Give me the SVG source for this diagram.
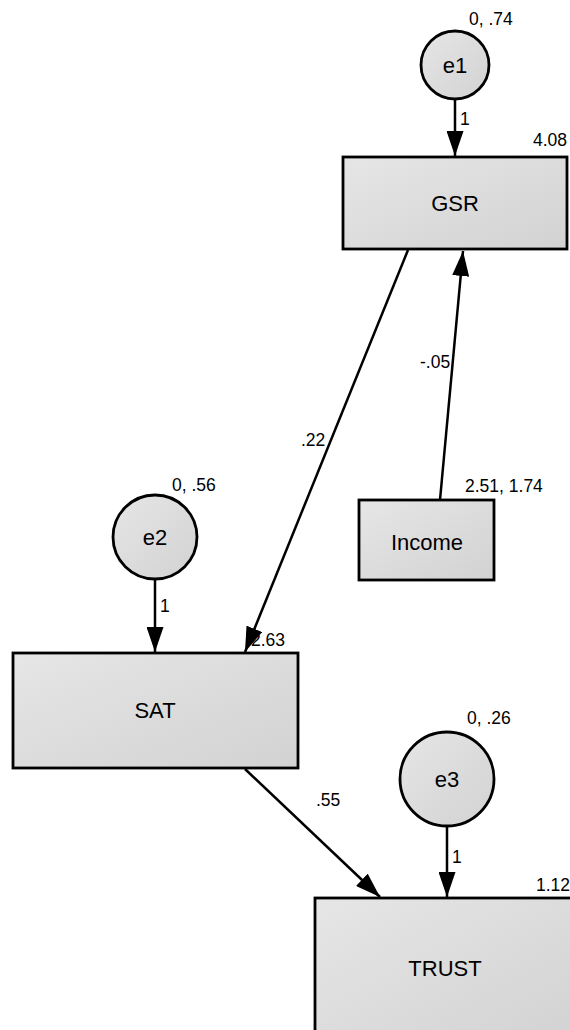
<svg xmlns="http://www.w3.org/2000/svg" width="570" height="1030" viewBox="0 0 570 1030">
<style>
.node{fill:url(#g);stroke:#000;stroke-width:2.8}
.lbl{font-family:"Liberation Sans",Arial,sans-serif;font-size:22px;fill:#000;text-anchor:middle}
.val{font-family:"Liberation Sans",Arial,sans-serif;font-size:17.5px;fill:#000}
.edge{stroke:#000;stroke-width:2.5;fill:none;marker-end:url(#ah)}
</style>
<defs>
<linearGradient id="g" x1="0" y1="0" x2="1" y2="1">
<stop offset="0" stop-color="#e6e6e6"/>
<stop offset="1" stop-color="#d2d2d2"/>
</linearGradient>
<marker id="ah" markerUnits="userSpaceOnUse" markerWidth="26" markerHeight="17" refX="25" refY="8.5" orient="auto">
<path d="M0,0 L25,8.5 L0,17 Z" fill="#000"/>
</marker>
</defs>
<rect width="570" height="1030" fill="#fff"/>
<g id="connectors">
<line class="edge" x1="455" y1="99" x2="455" y2="156"/>
<line class="edge" x1="155" y1="580" x2="155" y2="652"/>
<line class="edge" x1="447" y1="826" x2="447" y2="897"/>
<line class="edge" x1="408" y1="250" x2="245" y2="652"/>
<line class="edge" x1="440" y1="500" x2="463" y2="251"/>
<line class="edge" x1="245" y1="769" x2="380" y2="897"/>
<text class="val" x="460" y="125">1</text>
<text class="val" x="160" y="612">1</text>
<text class="val" x="452" y="863">1</text>
<text class="val" x="301" y="446">.22</text>
<text class="val" x="420" y="368">-.05</text>
<text class="val" x="316" y="806">.55</text>
</g>
<g id="e1">
<circle class="node" cx="455" cy="65" r="34"/>
<text class="lbl" x="455" y="73">e1</text>
<text class="val" x="469" y="25">0, .74</text>
</g>
<g id="GSR">
<rect class="node" x="343" y="157" width="224" height="92"/>
<text class="lbl" x="455" y="211">GSR</text>
<text class="val" x="567" y="146" text-anchor="end">4.08</text>
</g>
<g id="e2">
<circle class="node" cx="155" cy="537" r="42"/>
<text class="lbl" x="155" y="545">e2</text>
<text class="val" x="172" y="491">0, .56</text>
</g>
<g id="Income">
<rect class="node" x="359" y="500" width="135" height="80"/>
<text class="lbl" x="427" y="550">Income</text>
<text class="val" x="465" y="492">2.51, 1.74</text>
</g>
<g id="SAT">
<rect class="node" x="13" y="653" width="285" height="115"/>
<text class="lbl" x="155" y="718">SAT</text>
<text class="val" x="251" y="646">2.63</text>
</g>
<g id="e3">
<circle class="node" cx="447" cy="779" r="47"/>
<text class="lbl" x="447" y="787">e3</text>
<text class="val" x="467" y="724">0, .26</text>
</g>
<g id="TRUST">
<rect class="node" x="315" y="898" width="262" height="145"/>
<text class="lbl" x="445" y="976">TRUST</text>
<text class="val" x="570" y="891" text-anchor="end">1.12</text>
</g>
</svg>
